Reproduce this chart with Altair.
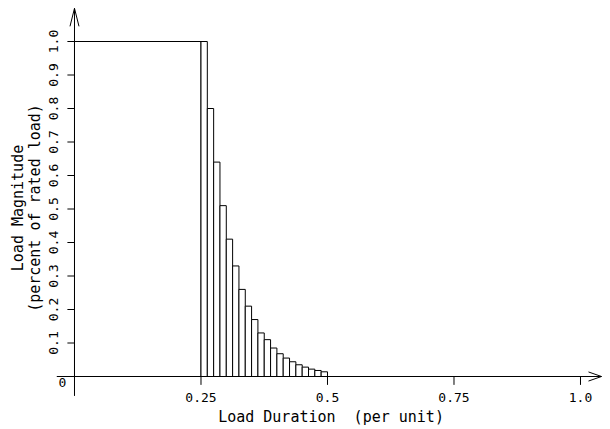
import altair as alt
import pandas as pd

# ---- data ----
bar_start = [0.0, 0.25, 0.2625, 0.275, 0.2875, 0.3, 0.3125, 0.325, 0.3375, 0.35,
             0.3625, 0.375, 0.3875, 0.4, 0.4125, 0.425, 0.4375, 0.45, 0.4625, 0.475, 0.4875]
bar_end = [0.25, 0.2625, 0.275, 0.2875, 0.3, 0.3125, 0.325, 0.3375, 0.35, 0.3625,
           0.375, 0.3875, 0.4, 0.4125, 0.425, 0.4375, 0.45, 0.4625, 0.475, 0.4875, 0.5]
magnitude = [1.0, 1.0, 0.80, 0.64, 0.51, 0.41, 0.33, 0.26, 0.21, 0.17,
             0.13, 0.11, 0.085, 0.068, 0.055, 0.044, 0.035, 0.028, 0.022, 0.018, 0.014]

x_tick_values = [0.25, 0.5, 0.75, 1.0]
x_tick_labels = ["0.25", "0.5", "0.75", "1.0"]
y_tick_values = [0.1, 0.2, 0.3, 0.4, 0.5, 0.6, 0.7, 0.8, 0.9, 1.0]
y_tick_labels = ["0.1", "0.2", "0.3", "0.4", "0.5", "0.6", "0.7", "0.8", "0.9", "1.0"]

x_title = "Load Duration \u00a0(per unit)"
y_title_1 = "Load Magnitude"
y_title_2 = "(percent of rated load)"

# ---- layout ----
FONT = "DejaVu Sans Mono"
W, H = 594, 421
X0, X1 = -0.1314, 1.0425
Y1 = 1.1
Y0 = Y1 - H / 335.0
xs = alt.Scale(domain=[X0, X1], nice=False, zero=False)
ys = alt.Scale(domain=[Y0, Y1], nice=False, zero=False)
X_END = 1.0415   # arrow tip of x axis
Y_END = 1.099    # arrow tip of y axis

bars_df = pd.DataFrame({"start": bar_start, "end": bar_end, "mag": magnitude})
bars_df["base"] = 0.0

bars = alt.Chart(bars_df).mark_rect(fill="white", stroke="black", strokeWidth=1).encode(
    x=alt.X("start:Q", scale=xs, axis=None),
    x2="end:Q",
    y=alt.Y("base:Q", scale=ys, axis=None),
    y2="mag:Q",
)

axes_df = pd.DataFrame({
    "x": [-0.035, 0.0], "x2": [X_END, 0.0],
    "y": [0.0, -0.058], "y2": [0.0, Y_END],
})
axes = alt.Chart(axes_df).mark_rule(color="black", strokeWidth=1).encode(
    x=alt.X("x:Q", scale=xs, axis=None), x2="x2:Q",
    y=alt.Y("y:Q", scale=ys, axis=None), y2="y2:Q",
)

xt_df = pd.DataFrame({"v": x_tick_values, "lab": x_tick_labels})
yt_df = pd.DataFrame({"v": y_tick_values, "lab": y_tick_labels})

xticks = alt.Chart(xt_df).mark_rule(color="black", strokeWidth=1).encode(
    x=alt.X("v:Q", scale=xs, axis=None),
    y=alt.Y(datum=0.0, scale=ys, axis=None),
    y2=alt.Y2(datum=-0.025),
)
yticks = alt.Chart(yt_df).mark_rule(color="black", strokeWidth=1).encode(
    y=alt.Y("v:Q", scale=ys, axis=None),
    x=alt.X(datum=-0.014, scale=xs, axis=None),
    x2=alt.X2(datum=0.0),
)

xlabels = alt.Chart(xt_df).mark_text(font=FONT, fontSize=13, align="center", baseline="middle", color="black").encode(
    x=alt.X("v:Q", scale=xs, axis=None),
    y=alt.Y(datum=-0.064, scale=ys, axis=None),
    text="lab:N",
)
ylabels = alt.Chart(yt_df).mark_text(font=FONT, fontSize=13, align="center", baseline="middle", angle=270, color="black").encode(
    y=alt.Y("v:Q", scale=ys, axis=None),
    x=alt.X(datum=-0.04, scale=xs, axis=None),
    text="lab:N",
)

origin_label = alt.Chart(pd.DataFrame({"lab": ["0"]})).mark_text(
    font=FONT, fontSize=13, align="center", baseline="middle", color="black").encode(
    x=alt.X(datum=-0.0237, scale=xs, axis=None),
    y=alt.Y(datum=-0.0194, scale=ys, axis=None),
    text="lab:N",
)

xtitle = alt.Chart(pd.DataFrame({"lab": [x_title]})).mark_text(
    font=FONT, fontSize=15, align="center", baseline="middle", color="black").encode(
    x=alt.X(datum=0.507, scale=xs, axis=None),
    y=alt.Y(datum=-0.121, scale=ys, axis=None),
    text="lab:N",
)
ytitle = alt.Chart(pd.DataFrame({"lab": [y_title_1, y_title_2], "xp": [-0.1117, -0.078]})).mark_text(
    font=FONT, fontSize=15, align="center", baseline="middle", angle=270, color="black").encode(
    x=alt.X("xp:Q", scale=xs, axis=None),
    y=alt.Y(datum=0.503, scale=ys, axis=None),
    text="lab:N",
)

arrow_right = alt.Chart(pd.DataFrame({"a": [X_END], "b": [0.0]})).mark_point(
    shape="M -1 -0.35 L 0 0 L -1 0.35", filled=False, stroke="black", strokeWidth=1,
    size=676, opacity=1).encode(
    x=alt.X("a:Q", scale=xs, axis=None),
    y=alt.Y("b:Q", scale=ys, axis=None),
)
arrow_up = alt.Chart(pd.DataFrame({"a": [0.0], "b": [Y_END]})).mark_point(
    shape="M -0.25 1 L 0 0 L 0.25 1", filled=False, stroke="black", strokeWidth=1,
    size=1296, opacity=1).encode(
    x=alt.X("a:Q", scale=xs, axis=None),
    y=alt.Y("b:Q", scale=ys, axis=None),
)

chart = alt.layer(
    bars, axes, xticks, yticks, xlabels, ylabels, origin_label, xtitle, ytitle,
    arrow_right, arrow_up,
).properties(
    width=W, height=H, padding=0,
    autosize=alt.AutoSizeParams(type="none"),
    background="white",
).configure_view(stroke=None)

chart.save("out.html", embed_options={"renderer": "svg", "actions": False})
